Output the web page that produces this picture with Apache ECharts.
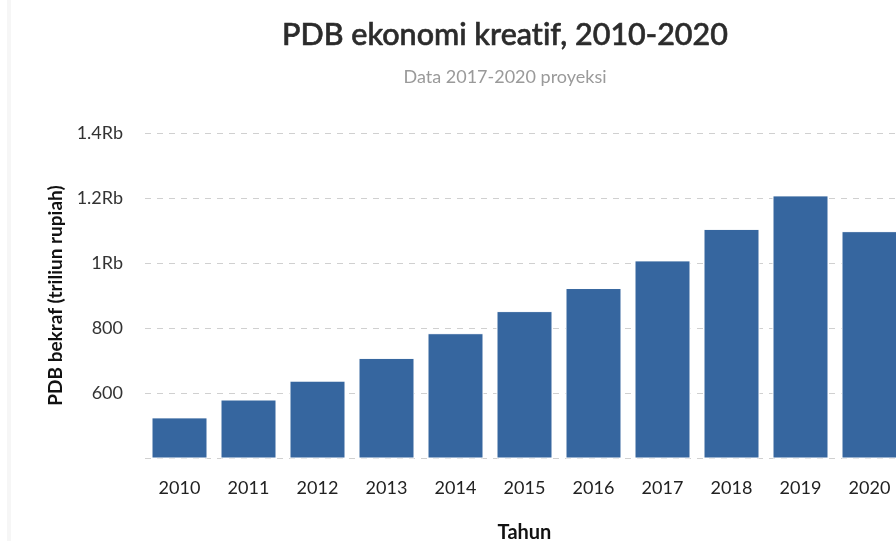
<!DOCTYPE html>
<html>
<head>
<meta charset="utf-8">
<script src="https://cdn.jsdelivr.net/npm/echarts@6/dist/echarts.min.js"></script>
<style>
    html, body { margin: 0; padding: 0; background: #fff; }
    #chart { width: 896px; height: 541px; }
</style>
</head>
<body>
<div id="chart"></div>
<script>
'use strict';

// data (triliun rupiah)
var years = ['2010', '2011', '2012', '2013', '2014', '2015', '2016', '2017', '2018', '2019', '2020'];
var pdbValues = [525, 580, 638, 708, 784, 852, 923, 1008, 1105, 1208, 1098];
var yTicks = [400, 600, 800, 1000, 1200, 1400];

var fontFamily = 'Lato, "Open Sans", sans-serif';

// label sumbu y: ribuan pakai "Rb"
var formatTick = function (v) {
    if (v === yTicks[0]) {
        return '';
    }
    if (v >= 1000) {
        return (v / 1000) + 'Rb';
    }
    return String(v);
};

var myChart = echarts.init(document.getElementById('chart'), null, {renderer: 'canvas'});

var option = {
    animation: false,
    backgroundColor: '#fff',
    textStyle: {fontFamily: fontFamily},
    graphic: [{
        type: 'rect',
        shape: {x: 7, y: 0, width: 4, height: 541},
        style: {fill: '#f6f6f6'}
    }],
    title: {
        // \u200C supaya "ti" tidak jadi ligatur
        text: 'PDB ekonomi kreat\u200Cif, 2010-2020',
        subtext: 'Data 2017-2020 proyeksi',
        left: 500,
        top: 15,
        textAlign: 'center',
        itemGap: 17,
        textStyle: {
            fontFamily: '"Lato Medium", ' + fontFamily,
            fontSize: 30.5,
            fontWeight: 'normal',
            color: '#2b2b2b',
            textBorderColor: '#2b2b2b',
            textBorderWidth: 0.6
        },
        subtextStyle: {fontFamily: fontFamily, fontSize: 18, color: '#9a9a9a'}
    },
    // plot keluar sedikit dari kanan, seperti aslinya
    grid: {
        left: 145,
        top: 133,
        width: 759,
        height: 325,
        containLabel: false,
        outerBoundsMode: 'none'
    },
    xAxis: {
        type: 'category',
        data: years,
        name: 'Tahun',
        nameLocation: 'middle',
        nameGap: 65,
        nameTextStyle: {fontFamily: fontFamily, fontSize: 20, fontWeight: 'bold', color: '#111'},
        axisLine: {show: false},
        axisTick: {show: false},
        axisLabel: {fontFamily: fontFamily, fontSize: 18, color: '#222', margin: 21}
    },
    yAxis: {
        type: 'value',
        min: yTicks[0],
        max: yTicks[yTicks.length - 1],
        interval: 200,
        name: 'PDB bekraf (triliun rupiah)',
        nameLocation: 'middle',
        nameGap: 80,
        nameTextStyle: {fontFamily: fontFamily, fontSize: 19, fontWeight: 'bold', color: '#111'},
        axisLine: {show: false},
        axisTick: {show: false},
        axisLabel: {fontFamily: fontFamily, fontSize: 18, color: '#333', margin: 22, formatter: formatTick},
        splitLine: {lineStyle: {color: '#d0d0d0', type: [6, 6], width: 1}}
    },
    series: [{
        type: 'bar',
        data: pdbValues,
        barWidth: 56,
        itemStyle: {color: '#36669f', borderColor: '#fff', borderWidth: 1}
    }]
};

myChart.setOption(option);
</script>
</body>
</html>
